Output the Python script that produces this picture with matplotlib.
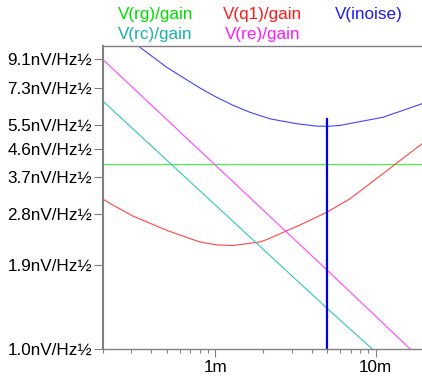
import matplotlib
matplotlib.use("Agg")
from matplotlib import pyplot as plt
from matplotlib.ticker import FixedLocator, NullFormatter, LogLocator

plt.rcParams['font.family'] = ['Liberation Sans', 'DejaVu Sans']

# frequency / noise density points
f_rg = [2.0e-4, 2.0e-2]
v_rg = [4.08, 4.08]

f_q1 = [2.0e-4, 2.21e-4, 3.08e-4, 4.98e-4, 8.0e-4, 1.02e-3, 1.29e-3, 1.9e-3,
        2.09e-3, 3.37e-3, 5.0e-3, 6.92e-3, 1.11e-2, 1.32e-2, 1.94e-2]
v_q1 = [3.13, 3.03, 2.75, 2.47, 2.26, 2.21, 2.20, 2.26,
        2.30, 2.57, 2.84, 3.14, 3.80, 4.08, 4.77]

f_rc = [2.0e-4, 5.0e-3, 9.52e-3]
v_rc = [6.60, 1.36, 1.00]

f_re = [2.0e-4, 5.0e-3, 1.64e-2]
v_re = [9.06, 1.82, 1.00]

f_inoise = [3.40e-4, 4.98e-4, 8.03e-4, 1.0e-3, 1.29e-3, 1.64e-3, 2.2e-3, 3.22e-3,
            4.28e-3, 5.0e-3, 5.98e-3, 1.11e-2, 1.89e-2, 2.0e-2]
v_inoise = [9.95, 8.55, 7.30, 6.84, 6.40, 6.07, 5.77, 5.56,
            5.46, 5.45, 5.49, 5.84, 6.44, 6.52]

cursor_f = 5.0e-3
cursor_top = 5.75

ytick_vals = [1.0, 1.9, 2.8, 3.7, 4.6, 5.5, 7.3, 9.1]
ytick_labels = [f'{v:.1f}nV/Hz½' for v in ytick_vals]
xtick_vals = [1e-3, 1e-2]
xtick_labels = ['1m', '10m']

fig = plt.figure(figsize=(4.22, 3.76), dpi=100)
ax = fig.add_axes([103 / 422, 27 / 376, 321 / 422, 303 / 376])

ax.plot(f_rg, v_rg, color='#33ff33', lw=0.8)
ax.plot(f_q1, v_q1, color='#ff4444', lw=0.8)
ax.plot(f_rc, v_rc, color='#33c4c4', lw=0.8)
ax.plot(f_re, v_re, color='#ff44ff', lw=0.8)
ax.plot(f_inoise, v_inoise, color='#4444ff', lw=0.8)
ax.plot([cursor_f, cursor_f], [1.0, cursor_top], color='#0000dd', lw=1.6)

ax.set_xscale('log')
ax.set_yscale('log')
ax.set_xlim(2e-4, 2e-2)
ax.set_ylim(1.0, 10.05)

ax.yaxis.set_major_locator(FixedLocator(ytick_vals))
ax.yaxis.set_minor_locator(FixedLocator([]))
ax.set_yticklabels(ytick_labels)
ax.yaxis.set_minor_formatter(NullFormatter())

ax.xaxis.set_major_locator(FixedLocator(xtick_vals))
ax.set_xticklabels(xtick_labels)
ax.xaxis.set_minor_locator(LogLocator(base=10, subs=range(2, 10)))
ax.xaxis.set_minor_formatter(NullFormatter())

ax.tick_params(axis='y', which='major', direction='out', length=6.5, width=0.8,
               color='#808080', labelsize=12.3, pad=1.4)
ax.tick_params(axis='x', which='major', direction='out', length=5.8, width=0.8,
               color='#808080', labelsize=12.3, pad=2)
ax.tick_params(axis='x', which='minor', direction='out', length=2.9, width=0.8, color='#808080')

for s in ['left', 'bottom', 'top']:
    ax.spines[s].set_color('#808080')
    ax.spines[s].set_linewidth(1)
ax.spines['left'].set_linewidth(1.5)
ax.spines['right'].set_visible(False)

# legend texts
fig.text(118 / 422, 1 - 15 / 376, 'V(rg)/gain', color='#00dd00', fontsize=12.3, va='center')
fig.text(223 / 422, 1 - 15 / 376, 'V(q1)/gain', color='#ff1a1a', fontsize=12.3, va='center')
fig.text(335 / 422, 1 - 15 / 376, 'V(inoise)', color='#1a1aff', fontsize=12.3, va='center')
fig.text(118 / 422, 1 - 35 / 376, 'V(rc)/gain', color='#1aafaf', fontsize=12.3, va='center')
fig.text(225 / 422, 1 - 35 / 376, 'V(re)/gain', color='#ff1aff', fontsize=12.3, va='center')

plt.savefig('out.png', dpi=100)
